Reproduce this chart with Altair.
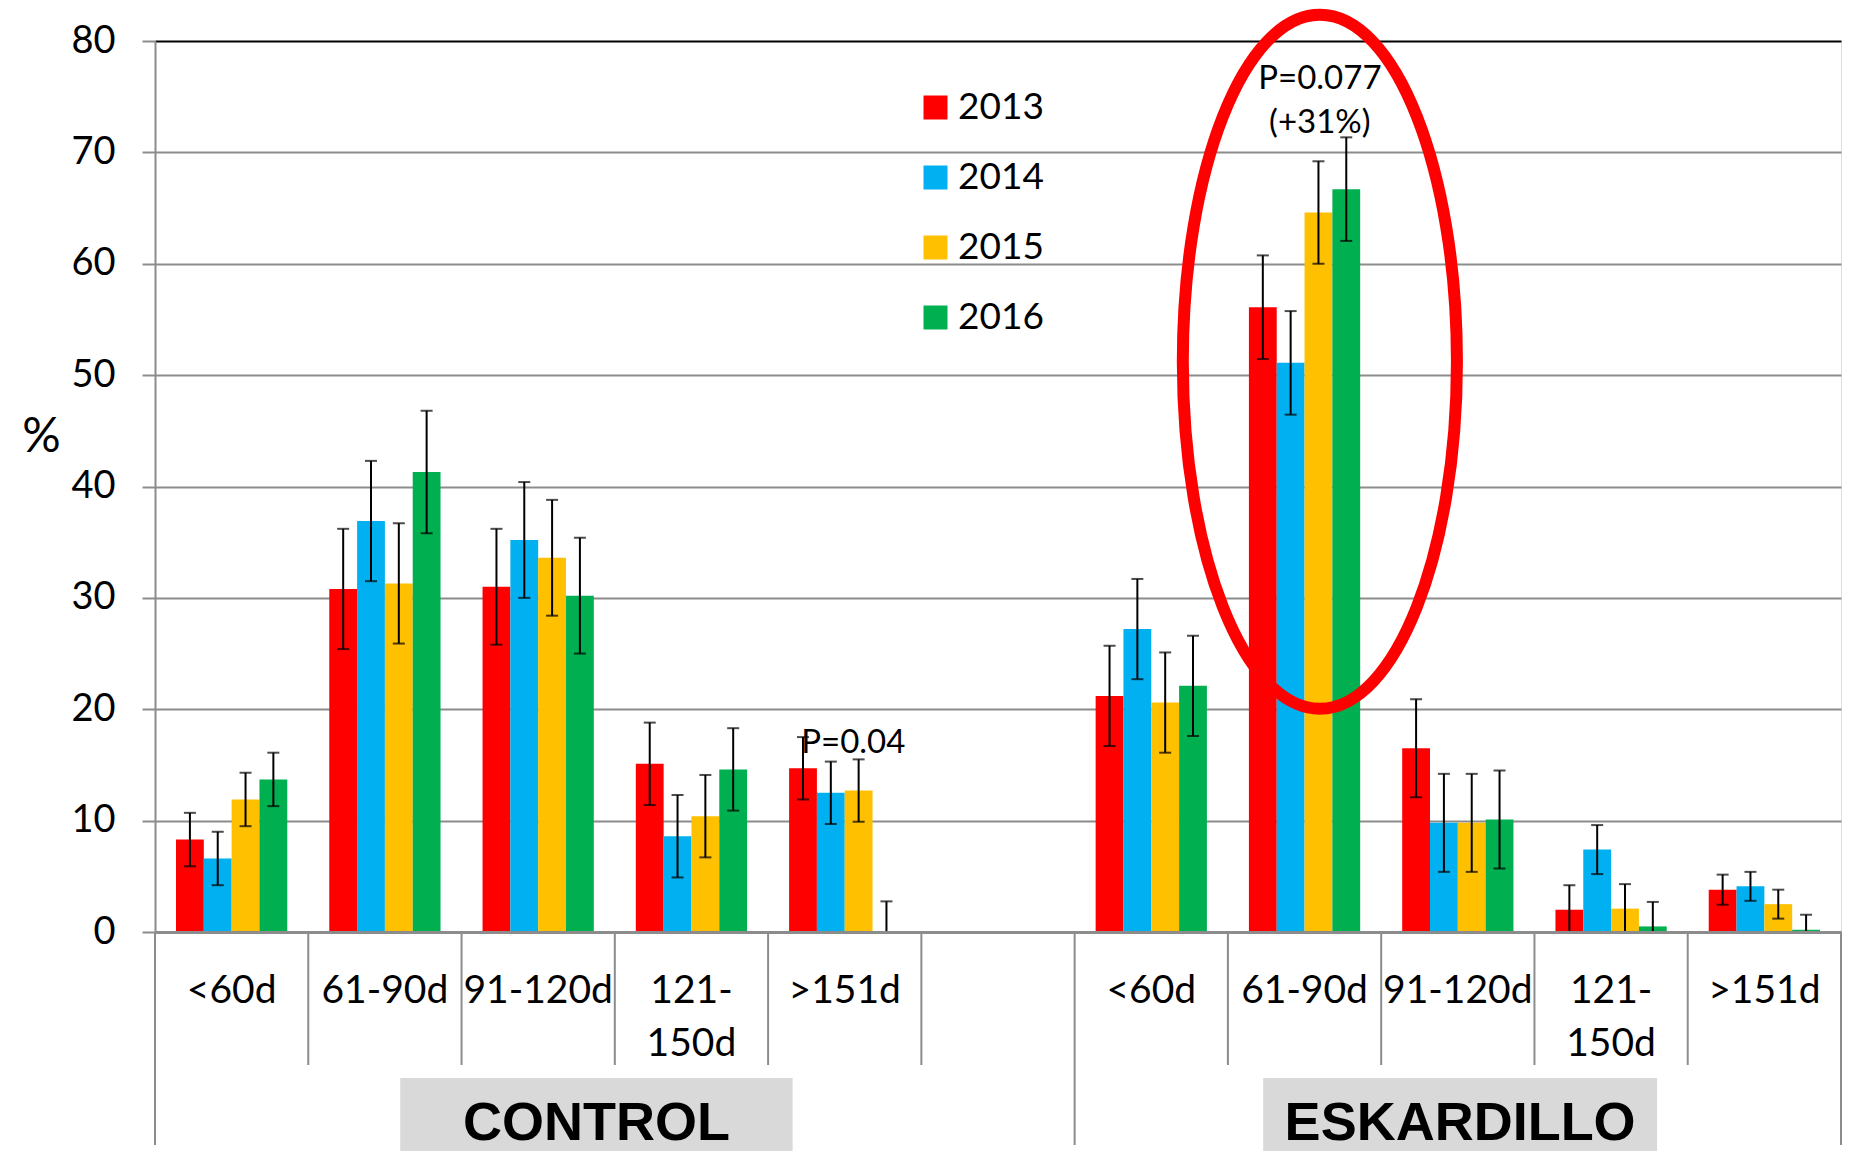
import json
import altair as alt
import pandas as pd

# ---------------- data ----------------
slots = ["C1", "C2", "C3", "C4", "C5", "GAP", "E1", "E2", "E3", "E4", "E5"]
slot_labels = [["<60d"], ["61-90d"], ["91-120d"], ["121-", "150d"], [">151d"], [""],
               ["<60d"], ["61-90d"], ["91-120d"], ["121-", "150d"], [">151d"]]
data_slots = ["C1", "C2", "C3", "C4", "C5", "E1", "E2", "E3", "E4", "E5"]
years = ["2013", "2014", "2015", "2016"]
colors = ["#FF0000", "#00B0F0", "#FFC000", "#00B050"]

v2013 = [8.3, 30.8, 31.0, 15.1, 14.7, 21.2, 56.1, 16.5, 2.0, 3.8]
v2014 = [6.6, 36.9, 35.2, 8.6, 12.5, 27.2, 51.1, 9.8, 7.4, 4.1]
v2015 = [11.9, 31.3, 33.6, 10.4, 12.7, 20.6, 64.6, 9.8, 2.1, 2.5]
v2016 = [13.7, 41.3, 30.2, 14.6, 0.0, 22.1, 66.7, 10.1, 0.5, 0.2]

e2013 = [2.4, 5.4, 5.2, 3.7, 2.8, 4.5, 4.65, 4.4, 2.2, 1.35]
e2014 = [2.4, 5.4, 5.2, 3.7, 2.8, 4.5, 4.65, 4.4, 2.2, 1.3]
e2015 = [2.4, 5.4, 5.2, 3.7, 2.8, 4.5, 4.6, 4.4, 2.2, 1.3]
e2016 = [2.4, 5.5, 5.2, 3.7, 2.75, 4.5, 4.65, 4.4, 2.2, 1.35]

ann_text = ["P=0.04", "P=0.077", "(+31%)"]
ann_x = [4.556, 7.60, 7.60]
ann_y = [16.95, 76.6, 72.6]

ellipse_x = [7.60]
ellipse_y = [51.2]

group_names = ["CONTROL", "ESKARDILLO"]
group_box_x = [1.60, 7.23]
group_box_x2 = [4.16, 9.80]
group_starts = [0, 6]

# ---------------- tables ----------------
vals = [v2013, v2014, v2015, v2016]
errs = [e2013, e2014, e2015, e2016]
rows = []
for yi, yr in enumerate(years):
    for si, s in enumerate(data_slots):
        rows.append({"slot": s, "year": yr, "value": vals[yi][si], "err": errs[yi][si]})
df = pd.DataFrame(rows)

ann_df = pd.DataFrame({"x": ann_x, "value": ann_y, "text": ann_text})
ell_df = pd.DataFrame({"x": ellipse_x, "value": ellipse_y})
grp_df = pd.DataFrame({"x": group_box_x, "x2": group_box_x2,
                       "xc": [(a + b) / 2 for a, b in zip(group_box_x, group_box_x2)],
                       "name": group_names})
n_slots = len(slots)
long_b = group_starts + [n_slots]
short_b = [b for b in range(n_slots + 1) if b not in long_b]
sep_long = pd.DataFrame({"x": long_b})
sep_short = pd.DataFrame({"x": short_b})

# ---------------- layout ----------------
W, H = 1686, 891
GRAY = "#8C8C8C"
FONT = "Lato"

label_expr = (json.dumps(slot_labels) + "[indexof(" + json.dumps(slots) + ", datum.value)]")

x_band = alt.X(
    "slot:N", sort=slots,
    scale=alt.Scale(domain=slots, paddingInner=0, paddingOuter=0),
    axis=alt.Axis(title=None, labelExpr=label_expr, ticks=False, tickSize=0,
                  labelAngle=0, labelFont=FONT, labelFontSize=39, labelColor="black",
                  labelPadding=39, labelLineHeight=53, labelBaseline="top",
                  labelOverlap=False, domainColor=GRAY, domainWidth=3, grid=False,
                  zindex=1),
)
x_off = alt.XOffset("year:N", sort=years,
                    scale=alt.Scale(domain=years, paddingOuter=0.755, paddingInner=0))
y_scale = alt.Scale(domain=[0, 80], nice=False)
y_axis = alt.Axis(values=list(range(0, 81, 10)), title="%", titleAngle=0,
                  titleX=-114, titleY=396, titleAlign="center", titleBaseline="middle",
                  titleFont=FONT, titleFontSize=48, titleFontWeight="normal",
                  titleColor="black", labelFont=FONT, labelFontSize=38,
                  labelColor="black", labelPadding=27, tickSize=13, tickColor=GRAY,
                  tickWidth=2, domainColor=GRAY, domainWidth=2,
                  gridColor={"condition": {"test": "datum.value >= 80", "value": "black"},
                             "value": GRAY},
                  gridWidth=2)

base = alt.Chart(df)

bars = base.mark_bar().encode(
    x=x_band, xOffset=x_off,
    y=alt.Y("value:Q", scale=y_scale, axis=y_axis),
    color=alt.Color("year:N", sort=years,
                    scale=alt.Scale(domain=years, range=colors),
                    legend=alt.Legend(title=None, orient="none", legendX=762, legendY=48,
                                      direction="vertical", symbolType="square",
                                      symbolSize=576, symbolStrokeWidth=0,
                                      labelFont=FONT, labelFontSize=37,
                                      labelColor="black", labelOffset=4,
                                      rowPadding=32, padding=0)),
)

err_base = base.transform_calculate(
    lo="max(0, datum.value - datum.err)", hi="datum.value + datum.err")

err_rule = err_base.mark_rule(color="black", strokeWidth=2).encode(
    x=x_band, xOffset=x_off,
    y=alt.Y("lo:Q", scale=y_scale, title="%"), y2="hi:Q")
cap_hi = err_base.mark_tick(color="black", thickness=2, size=12).encode(
    x=x_band, xOffset=x_off, y=alt.Y("hi:Q", scale=y_scale, title="%"))
cap_lo = err_base.transform_filter("datum.lo > 0").mark_tick(
    color="black", thickness=2, size=12).encode(
    x=x_band, xOffset=x_off, y=alt.Y("lo:Q", scale=y_scale, title="%"))

bar_group = alt.layer(bars, err_rule, cap_hi, cap_lo)

# annotation layer on a continuous slot scale
xq_scale = alt.Scale(domain=[0, n_slots], nice=False, zero=False)
xq = alt.X("x:Q", scale=xq_scale, axis=None)

seps_short = alt.Chart(sep_short).mark_rule(color=GRAY, strokeWidth=2).encode(
    x=xq, y=alt.value(H), y2=alt.value(H + 133))
seps_long = alt.Chart(sep_long).mark_rule(color=GRAY, strokeWidth=2).encode(
    x=xq, y=alt.value(H), y2=alt.value(H + 213))

boxes = alt.Chart(grp_df).mark_rect(color="#D9D9D9").encode(
    x=xq, x2="x2:Q", y=alt.value(H + 146), y2=alt.value(H + 260))
grp_text = alt.Chart(grp_df).mark_text(
    font="Liberation Sans", fontWeight="bold", fontSize=54, color="black",
    align="center", baseline="middle").encode(
    x=alt.X("xc:Q", scale=xq_scale, axis=None), y=alt.value(H + 192), text="name:N")

ann = alt.Chart(ann_df).mark_text(
    font=FONT, fontSize=33, color="black", align="center", baseline="middle").encode(
    x=xq, y=alt.Y("value:Q", scale=y_scale, title="%"), text="text:N")

k = 0.5523
a = 0.395
ell_path = (f"M 0,-1 C {k*a:.4f},-1 {a},-{k} {a},0 C {a},{k} {k*a:.4f},1 0,1 "
            f"C -{k*a:.4f},1 -{a},{k} -{a},0 C -{a},-{k} -{k*a:.4f},-1 0,-1 Z")
ellipse = alt.Chart(ell_df).mark_point(
    shape=ell_path, size=694 ** 2, filled=False, stroke="#FF0000", strokeWidth=12,
    opacity=1, strokeOpacity=1).encode(
    x=xq, y=alt.Y("value:Q", scale=y_scale, title="%"))

ann_group = alt.layer(seps_short, seps_long, boxes, grp_text, ann, ellipse)

chart = alt.layer(bar_group, ann_group).resolve_scale(x="independent").properties(
    width=W, height=H,
    autosize=alt.AutoSizeParams(type="none"),
    padding={"left": 147, "top": 33, "right": 2, "bottom": 219},
).configure_view(stroke="black", strokeWidth=2).configure(background="white")

chart.save("out.html", embed_options={"renderer": "svg", "actions": False})
